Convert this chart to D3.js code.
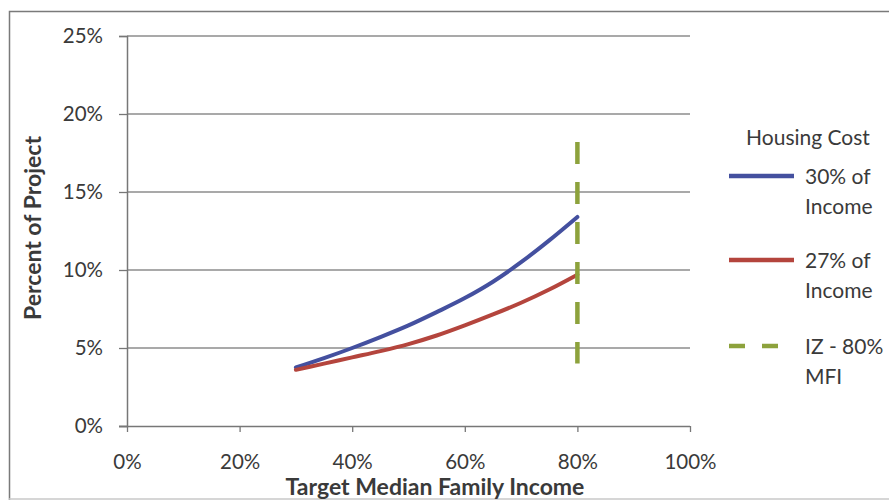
<!DOCTYPE html>
<html>
<head>
<meta charset="utf-8">
<script src="https://cdn.jsdelivr.net/npm/d3@7"></script>
<style>
  html, body { margin: 0; padding: 0; background: #fff; }
  svg { display: block; }
  text { font-family: Lato, "Open Sans", sans-serif; fill: #3a3a3a; }
</style>
</head>
<body>
<svg id="chart" width="889" height="500"></svg>
<script>
// Target median family income (%), and share of project for each housing-cost assumption
const incomeLevels = [30, 35, 40, 45, 50, 55, 60, 65, 70, 75, 80];
const cost30 = [3.75, 4.35, 5.0, 5.7, 6.45, 7.3, 8.2, 9.25, 10.5, 11.9, 13.4];
const cost27 = [3.6, 4.0, 4.4, 4.8, 5.25, 5.8, 6.45, 7.15, 7.9, 8.75, 9.7];
const iz80 = { x: 80, from: 4.0, to: 18.2 };
const xTicks = [0, 20, 40, 60, 80, 100];
const yTicks = [0, 5, 10, 15, 20, 25];
const seriesNames = ["30% of|Income", "27% of|Income", "IZ - 80%|MFI"];
const colors = ["#44509f", "#b4453d", "#8da23c"];

const svg = d3.select("#chart");

// chart area frame (left and top edges, faint bottom edge)
svg.append("path")
  .attr("d", "M889,11.5H9.5V500")
  .attr("fill", "none").attr("stroke", "#7a7a7a").attr("stroke-width", 1.5);
svg.append("line")
  .attr("x1", 9).attr("x2", 889).attr("y1", 499).attr("y2", 499)
  .attr("stroke", "#c8c8c8").attr("stroke-width", 1.5);

const x = d3.scaleLinear().domain([0, 100]).range([127, 690]);
const y = d3.scaleLinear().domain([0, 25]).range([426, 36]);

// horizontal gridlines
svg.append("g").selectAll("line").data(yTicks.filter(d => d > 0)).join("line")
  .attr("x1", x(0)).attr("x2", x(100))
  .attr("y1", d => y(d)).attr("y2", d => y(d))
  .attr("stroke", "#8c8c8c").attr("stroke-width", 1.3);

// y axis
const yAxis = svg.append("g").attr("transform", `translate(${x(0)},0)`)
  .call(d3.axisLeft(y).tickValues(yTicks).tickFormat(d => d + "%").tickSize(8).tickPadding(16));
yAxis.select(".domain").attr("stroke", "#777").attr("stroke-width", 1.5);
yAxis.selectAll(".tick line").attr("stroke", "#777").attr("stroke-width", 1.3);
yAxis.selectAll("text").attr("font-size", 20.5).attr("fill", "#3a3a3a")
  .attr("font-family", "Lato, sans-serif");

// x axis
const xAxis = svg.append("g").attr("transform", `translate(0,${y(0)})`)
  .call(d3.axisBottom(x).tickValues(xTicks).tickFormat(d => d + "%").tickSize(6).tickPadding(22));
xAxis.select(".domain").attr("stroke", "#777").attr("stroke-width", 1.5)
  .attr("d", `M${x(0) - 8},0.5H${x(100)}`);
xAxis.selectAll(".tick line").attr("stroke", "#777").attr("stroke-width", 1.3);
xAxis.selectAll("text").attr("font-size", 20.5).attr("fill", "#3a3a3a")
  .attr("font-family", "Lato, sans-serif");

// axis titles
svg.append("text")
  .attr("x", 435).attr("y", 495)
  .attr("text-anchor", "middle").attr("font-size", 23).attr("font-weight", "bold")
  .text("Target Median Family Income");
svg.append("text")
  .attr("transform", `translate(41,228) rotate(-90)`)
  .attr("text-anchor", "middle").attr("font-size", 23).attr("font-weight", "bold")
  .text("Percent of Project");

// curves
const line = d3.line().x(d => x(d[0])).y(d => y(d[1])).curve(d3.curveMonotoneX);
[cost30, cost27].forEach((vals, i) => {
  svg.append("path")
    .datum(incomeLevels.map((lvl, k) => [lvl, vals[k]]))
    .attr("d", line)
    .attr("fill", "none").attr("stroke", colors[i]).attr("stroke-width", 4)
    .attr("stroke-linecap", "round");
});

// IZ 80% MFI marker line
svg.append("line")
  .attr("x1", x(iz80.x)).attr("x2", x(iz80.x))
  .attr("y1", y(iz80.to)).attr("y2", y(iz80.from))
  .attr("stroke", colors[2]).attr("stroke-width", 4.5)
  .attr("stroke-dasharray", "22,18");

// legend
const lg = svg.append("g");
lg.append("text").attr("x", 808).attr("y", 145).attr("text-anchor", "middle")
  .attr("font-size", 21).text("Housing Cost");
const legendY = [176, 260, 346];
seriesNames.forEach((name, i) => {
  const ly = legendY[i];
  lg.append("line")
    .attr("x1", 729).attr("x2", 794).attr("y1", ly).attr("y2", ly)
    .attr("stroke", colors[i]).attr("stroke-width", 4.5)
    .attr("stroke-dasharray", i === 2 ? "16,17" : null);
  const parts = name.split("|");
  parts.forEach((p, j) => {
    lg.append("text").attr("x", 805).attr("y", ly + 8 + j * 30)
      .attr("font-size", 21).text(p);
  });
});
</script>
</body>
</html>
